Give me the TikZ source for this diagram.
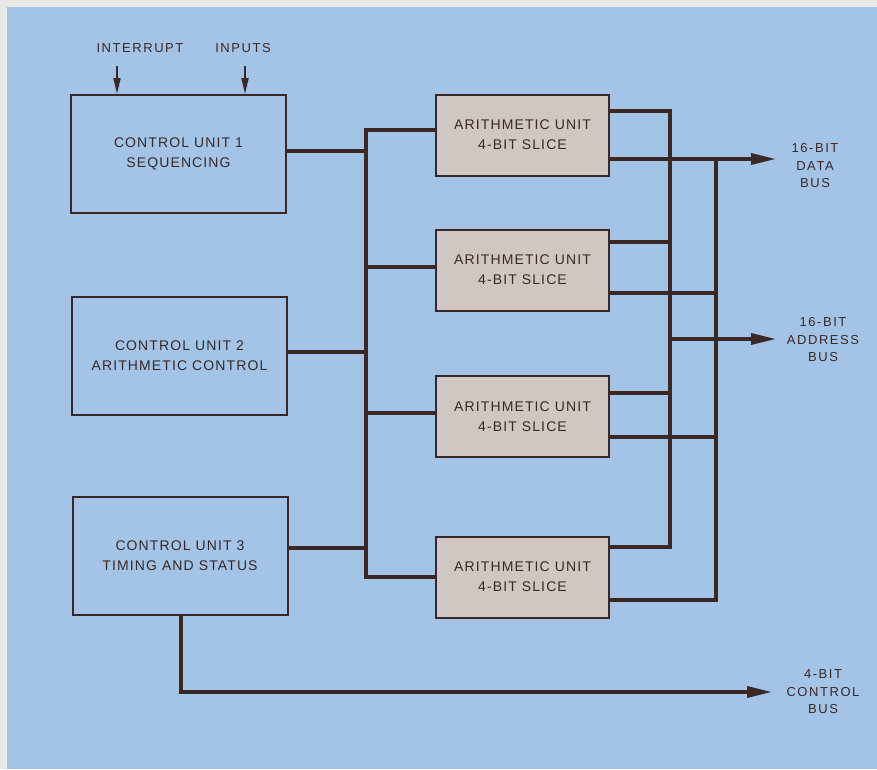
\documentclass[tikz,border=0pt]{standalone}
\usepackage{fontspec}
\setmainfont{Liberation Sans}
\newfontfamily\boxfont[LetterSpace=8]{Liberation Sans}
\newfontfamily\lblfont[LetterSpace=12]{Liberation Sans}
\usetikzlibrary{arrows.meta,calc}
\definecolor{bg}{RGB}{163,196,230}
\definecolor{pagegrey}{RGB}{232,232,230}
\definecolor{ink}{RGB}{58,40,38}
\definecolor{aufill}{RGB}{208,199,195}
\begin{document}
\begin{tikzpicture}[x=1pt,y=-1pt,
  box/.style={draw=ink, line width=2pt, minimum width=215pt, minimum height=118pt,
    inner sep=0pt, align=center, text=ink, font=\boxfont\fontsize{14}{20}\selectfont},
  au/.style={box, fill=aufill, minimum width=173pt, minimum height=81pt},
  bus/.style={draw=ink, line width=3.4pt},
  busarrow/.style={bus, -{Triangle[length=25pt,width=11pt]}},
  inarrow/.style={draw=ink, line width=2pt, -{Triangle[length=16pt,width=7pt]}},
  lab/.style={text=ink, align=center, inner sep=0pt, font=\lblfont\fontsize{13}{17.5}\selectfont}
]
\fill[pagegrey] (0,0) rectangle (877,769);
\fill[bg] (7,7) rectangle (877,769);
\useasboundingbox (0,0) rectangle (877,769);

% control units
\node[box] (cu1) at (178.5,154) {CONTROL UNIT 1\\SEQUENCING};
\node[box] (cu2) at (179.5,356) {CONTROL UNIT 2\\ARITHMETIC CONTROL};
\node[box] (cu3) at (180,556) {CONTROL UNIT 3\\TIMING AND STATUS};

% arithmetic units
\node[au] (au1) at (522.5,135) {ARITHMETIC UNIT\\4-BIT SLICE};
\node[au] (au2) at (522.5,270) {ARITHMETIC UNIT\\4-BIT SLICE};
\node[au] (au3) at (522.5,416.5) {ARITHMETIC UNIT\\4-BIT SLICE};
\node[au] (au4) at (522.5,577) {ARITHMETIC UNIT\\4-BIT SLICE};

% labels
\node[lab] (intr) at (140,48) {INTERRUPT};
\node[lab] (inp) at (243,48) {INPUTS};
\node[lab] (datal) at (815,166) {16-BIT\\DATA\\BUS};
\node[lab] (addrl) at (823,340) {16-BIT\\ADDRESS\\BUS};
\node[lab] (ctll) at (823,692) {4-BIT\\CONTROL\\BUS};

% coordinates
\coordinate (lbT) at (366,130);
\coordinate (lbB) at (366,577);
\coordinate (caT) at (670,111);
\coordinate (caB) at (670,547);
\coordinate (cdT) at (716,159);
\coordinate (cdB) at (716,600);
\coordinate (datatip) at (776,159);
\coordinate (addrtip) at (776,339);
\coordinate (ctlcorner) at (181,692);
\coordinate (ctltip) at (772,692);

% interrupt inputs
\draw[inarrow] (117,66) -- (cu1.north -| 117,0);
\draw[inarrow] (245,66) -- (cu1.north -| 245,0);

% left bus
\draw[bus] (au1.west |- lbT) -- (lbT) -- (lbB) -- (au4.west |- lbB);
\draw[bus] (cu1.east |- 0,151) -- (lbT |- 0,151);
\draw[bus] (cu2.east |- 0,352) -- (lbT |- 0,352);
\draw[bus] (cu3.east |- 0,548) -- (lbT |- 0,548);
\draw[bus] (au2.west |- 0,267) -- (lbT |- 0,267);
\draw[bus] (au3.west |- 0,413) -- (lbT |- 0,413);

% address collector
\draw[bus] (au1.east |- caT) -- (caT) -- (caB) -- (au4.east |- caB);
\draw[bus] (au2.east |- 0,242) -- (caT |- 0,242);
\draw[bus] (au3.east |- 0,393) -- (caT |- 0,393);
\draw[busarrow] (caT |- addrtip) -- (addrtip);

% data collector
\draw[busarrow] (au1.east |- cdT) -- (datatip);
\draw[bus] (cdT) -- (cdB) -- (au4.east |- cdB);
\draw[bus] (au2.east |- 0,293) -- (cdT |- 0,293);
\draw[bus] (au3.east |- 0,437) -- (cdT |- 0,437);

% control bus
\draw[busarrow] (cu3.south -| ctlcorner) -- (ctlcorner) -- (ctltip);
\end{tikzpicture}
\end{document}
